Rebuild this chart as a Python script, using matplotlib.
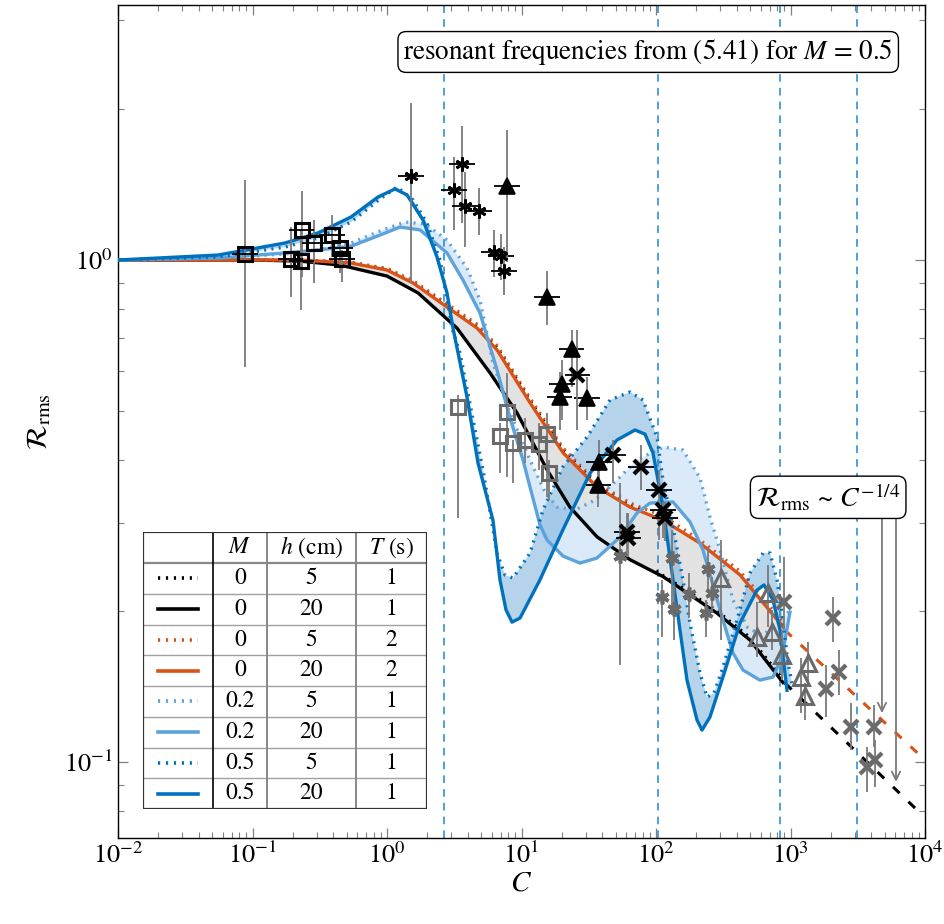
import numpy as np
import matplotlib
matplotlib.use('Agg')
import matplotlib.pyplot as plt

plt.rcParams['font.family'] = ['STIXGeneral', 'DejaVu Serif']
plt.rcParams['mathtext.fontset'] = 'stix'

# ---------------- model curves ----------------
# M=0, h=20, T=1 (black solid)
C_k20 = [0.01, 0.096, 0.225, 0.448, 1.0, 1.70, 3.31, 5.83, 9.26, 15.5, 22.9, 36.4, 64.1, 113, 159, 284, 500, 880]
R_k20 = [1.0, 1.0, 0.995, 0.977, 0.929, 0.860, 0.732, 0.596, 0.496, 0.382, 0.322, 0.281, 0.253, 0.234, 0.220, 0.198, 0.175, 0.144]
# M=0, h=5, T=1 (black dotted)
C_k5 = [0.01, 0.225, 0.540, 1.0, 1.56, 2.79, 4.67, 6.58, 11.6, 20.4, 36.4, 64.1, 80, np.nan, 100, 159, 284, 500, 880]
R_k5 = [1.0, 1.0, 0.988, 0.958, 0.905, 0.812, 0.738, 0.668, 0.524, 0.418, 0.357, 0.325, 0.318, np.nan, 0.240, 0.222, 0.200, 0.177, 0.146]
# M=0, h=20, T=2 (orange solid)
C_o20 = [0.01, 0.225, 0.540, 1.0, 1.56, 2.79, 4.67, 6.58, 11.6, 20.4, 36.4, 64.1, 113, 212, 421, 880]
R_o20 = [1.0, 1.0, 0.986, 0.955, 0.900, 0.806, 0.732, 0.662, 0.519, 0.413, 0.353, 0.322, 0.303, 0.273, 0.236, 0.186]
# M=0, h=5, T=2 (orange dotted)
C_o5 = [0.01, 0.225, 0.540, 1.0, 1.56, 2.79, 4.67, 6.58, 11.6, 20.4, 36.4, 64.1, 113, 212, 421, 880]
R_o5 = [1.0, 1.0, 0.990, 0.962, 0.910, 0.818, 0.745, 0.675, 0.530, 0.422, 0.360, 0.328, 0.309, 0.277, 0.240, 0.190]
# M=0.2, h=20 (light blue solid)
C_l20 = [0.01, 0.0554, 0.1745, 0.307, 0.540, 0.887, 1.249, 1.759, 2.793, 3.673, 4.914, 6.575, 8.21, 10.26,
         11.57, 13.73, 15.47, 20.35, 27.2, 36.4, 54.0, 72.2, 90.2, 133.8, 179, 223.5, 265.5, 314.6, 373.7,
         443.4, 593, 741, 865, 991]
R_l20 = [1.0, 1.009, 1.033, 1.047, 1.065, 1.121, 1.163, 1.148, 1.033, 0.912, 0.784, 0.604, 0.4845, 0.3996,
         0.353, 0.2966, 0.277, 0.2572, 0.2491, 0.2549, 0.2806, 0.3133, 0.328, 0.3296, 0.3008, 0.2645, 0.2252,
         0.1918, 0.1649, 0.1525, 0.1456, 0.1477, 0.1619, 0.1989]
# M=0.2, h=5 (light blue dotted)
C_l5 = [0.01, 0.0554, 0.1745, 0.307, 0.540, 0.887, 1.361, 1.917, 2.793, 3.934, 4.914, 6.14, 8.21, 11.57,
        14.95, 18.37, 25.0, 35.2, 51.3, 72.2, 112.7, 158.8, 212.5, 252, 299, 373.7, 483, 614, 794, 1026]
R_l5 = [1.0, 1.009, 1.028, 1.047, 1.081, 1.142, 1.190, 1.180, 1.096, 0.964, 0.832, 0.6236, 0.4957, 0.3996,
        0.345, 0.322, 0.3177, 0.3325, 0.3646, 0.3996, 0.4240, 0.4182, 0.3679, 0.3077, 0.2645, 0.2102, 0.185,
        0.179, 0.1875, 0.2027]
# M=0.5, h=20 (dark blue solid)
C_b20 = [0.01, 0.0554, 0.1745, 0.307, 0.540, 0.857, 1.147, 1.408, 1.852, 2.353, 2.793, 3.095, 3.934, 4.750,
         6.14, 6.92, 7.67, 8.50, 9.75, 13.7, 20.3, 32.3, 51.3, 69.8, 82.8, 95.0, 112.7, 133.8, 170, 201.8,
         219.8, 252, 314.6, 421, 563, 635, 741, 835, 895, 942]
R_b20 = [1.0, 1.023, 1.081, 1.132, 1.218, 1.335, 1.385, 1.348, 1.201, 1.014, 0.860, 0.732, 0.533, 0.394,
         0.303, 0.2305, 0.201, 0.190, 0.1936, 0.2305, 0.290, 0.376, 0.438, 0.4585, 0.450, 0.4125, 0.322,
         0.2305, 0.1456, 0.1213, 0.1158, 0.1230, 0.1477, 0.189, 0.220, 0.2253, 0.2103, 0.1833, 0.156, 0.139]
# M=0.5, h=5 (dark blue dotted)
C_b5 = [0.01, 0.0554, 0.1745, 0.307, 0.540, 0.887, 1.187, 1.561, 1.983, 2.477, 2.793, 3.04, 3.49, 5.173,
        6.575, 7.54, 8.64, 11.57, 14.45, 20.3, 30.7, 45.5, 64.1, 80.0, 101.7, 112.7, 133.8, 158.8, 179,
        212.5, 239.4, 270, 314.6, 400, 500, 624.7, 704, 794, 865, 958, 1026]
R_b5 = [1.0, 1.014, 1.061, 1.106, 1.190, 1.323, 1.398, 1.317, 1.185, 1.0, 0.844, 0.732, 0.6527, 0.3817,
        0.2608, 0.2358, 0.2326, 0.2608, 0.3177, 0.3870, 0.4440, 0.5262, 0.5458, 0.5262, 0.4440, 0.3646,
        0.2938, 0.2305, 0.189, 0.1504, 0.1347, 0.1372, 0.1546, 0.1918, 0.2379, 0.2608, 0.2608, 0.2305,
        0.198, 0.1575, 0.1437]

# power-law fits R ~ C^-1/4
C_fit_o = [910, 10000]
R_fit_o = [0.183, 0.101]
C_fit_k = [910, 8430]
R_fit_k = [0.1436, 0.081]

# resonant frequencies for M = 0.5
C_res = [2.65, 103.5, 836, 3120]

# axis ticks
x_ticks = [1e-2, 1e-1, 1e0, 1e1, 1e2, 1e3, 1e4]
y_ticks = [1e-1, 1e0]

# ---------------- measurements ----------------
# black open squares
sq_C = [0.088, 0.193, 0.230, 0.233, 0.287, 0.390, 0.448, 0.463]
sq_R = [1.028, 1.005, 0.995, 1.148, 1.081, 1.121, 1.057, 1.005]
sq_lo = [0.612, 0.844, 0.795, 0.925, 0.900, 1.014, 0.942, 0.904]
sq_hi = [1.44, 1.163, 1.148, 1.372, 1.201, 1.229, 1.163, 1.047]
# black asterisks
as_C = [1.508, 3.61, 3.15, 3.80, 4.83, 6.245, 7.04, 7.41]
as_R = [1.470, 1.553, 1.379, 1.281, 1.252, 1.037, 1.018, 0.951]
as_lo = [0.900, 1.185, 1.148, 1.061, 1.121, 0.925, 0.912, 0.852]
as_hi = [2.054, 1.849, 1.604, 1.497, 1.391, 1.148, 1.127, 1.061]
# black filled triangles
tb_C = [7.80, 15.47, 23.7, 20.0, 19.3, 30.7, 37.7, 37.1]
tb_R = [1.404, 0.844, 0.665, 0.566, 0.533, 0.531, 0.396, 0.356]
tb_lo = [0.991, 0.742, 0.558, 0.480, 0.4585, 0.480, 0.356, 0.322]
tb_hi = [1.815, 0.951, 0.725, 0.632, 0.598, 0.585, 0.438, 0.394]
# black crosses
xb_C = [25.9, 47.9, 77.3, 105.2, 112.7, 116.7, 60.9, 62.0]
xb_R = [0.590, 0.409, 0.387, 0.348, 0.318, 0.306, 0.287, 0.279]
xb_lo = [0.4585, 0.359, 0.348, 0.277, 0.280, 0.275, 0.256, 0.256]
xb_hi = [0.725, 0.438, 0.428, 0.382, 0.330, 0.330, 0.314, 0.314]
# horizontal error factor of black symbols
x_err_factor = 1.24
# grey open squares
gs_C = [3.37, 7.80, 6.92, 8.65, 10.6, 13.5, 15.47, 16.0]
gs_R = [0.5095, 0.498, 0.446, 0.432, 0.438, 0.430, 0.450, 0.376]
gs_lo = [0.306, 0.370, 0.376, 0.359, 0.394, 0.382, 0.337, 0.332]
gs_hi = [0.538, 0.596, 0.4735, 0.438, 0.4845, 0.4735, 0.4957, 0.400]
# grey asterisks
ga_C = [54.0, 131.5, 110.8, 136.1, 176, 243.6, 260.8, 235.4]
ga_R = [0.2572, 0.2549, 0.2132, 0.2018, 0.2163, 0.2424, 0.2171, 0.198]
ga_lo = [0.156, 0.196, 0.1774, 0.175, 0.1936, 0.220, 0.198, 0.1774]
ga_hi = [0.359, 0.290, 0.2305, 0.2253, 0.2379, 0.268, 0.2336, 0.2103]
# grey open triangles
gt_C = [304, 680, 563.7, 729, 865, 1197, 1349, 1282]
gt_R = [0.2326, 0.2171, 0.1774, 0.1815, 0.1634, 0.1477, 0.1575, 0.1353]
gt_lo = [0.175, 0.186, 0.1619, 0.167, 0.1456, 0.1252, 0.1436, 0.1213]
gt_hi = [0.277, 0.247, 0.2084, 0.201, 0.1833, 0.161, 0.1734, 0.1436]
# grey crosses
gx_C = [895, 2070, 1836, 2294, 2818, 4178, 3707, 4248]
gx_R = [0.2084, 0.1936, 0.1397, 0.1511, 0.1174, 0.1174, 0.0977, 0.101]
gx_lo = [0.1833, 0.1734, 0.123, 0.136, 0.1057, 0.1073, 0.0872, 0.0892]
gx_hi = [0.256, 0.2132, 0.156, 0.167, 0.131, 0.1302, 0.1073, 0.1106]

# arrows from the fit label to the fit lines
arrow_C = [4787, 6087]
arrow_R_start = [0.318, 0.318]
arrow_R_end = [0.1252, 0.0913]

# legend table
tab_M = ['0', '0', '0', '0', '0.2', '0.2', '0.5', '0.5']
tab_h = ['5', '20', '5', '20', '5', '20', '5', '20']
tab_T = ['1', '1', '2', '2', '1', '1', '1', '1']

BLACK = '#000000'
ORANGE = '#D95319'
LBLUE = '#5DA3DB'
DBLUE = '#0072BD'
GREY = '#6a6a6a'
EGREY = '#7a7a7a'

fig = plt.figure(figsize=(9.44, 9.24), dpi=100)
ax = fig.add_axes([118/944, 1-838/924, 807/944, 833/924])
ax.set_xscale('log')
ax.set_yscale('log')
ax.set_xlim(1e-2, 1e4)
ax.set_ylim(0.0706, 3.22)

# fills
ax.fill(list(C_o20) + C_k20[::-1], list(R_o20) + R_k20[::-1], color='#e2e2e2', lw=0, zorder=1)
ax.fill(list(C_l5) + C_l20[::-1], list(R_l5) + R_l20[::-1], color='#cfe4f6', alpha=0.75, lw=0, zorder=1.1)
ax.fill(list(C_b5) + C_b20[::-1], list(R_b5) + R_b20[::-1], color='#79afdc', alpha=0.55, lw=0, zorder=1.2)

# resonant lines
for c in C_res:
    ax.axvline(c, color='#1f86d0', lw=1.1, ls=(0, (5, 4)), zorder=1.5)

lw = 2.4
dot = (0, (0.6, 1.6))
ax.plot(C_k20, R_k20, color=BLACK, lw=lw, zorder=3)
ax.plot(C_k5, R_k5, color=BLACK, lw=lw, ls=dot, zorder=3)
ax.plot(C_o5, R_o5, color=ORANGE, lw=lw, ls=dot, zorder=3.1)
ax.plot(C_o20, R_o20, color=ORANGE, lw=lw, zorder=3.2)
ax.plot(C_l5, R_l5, color=LBLUE, lw=lw, ls=dot, zorder=3.3)
ax.plot(C_l20, R_l20, color=LBLUE, lw=lw, zorder=3.4)
ax.plot(C_b5, R_b5, color=DBLUE, lw=lw, ls=dot, zorder=3.5)
ax.plot(C_b20, R_b20, color=DBLUE, lw=lw, zorder=3.6)

ax.plot(C_fit_o, R_fit_o, color=ORANGE, lw=2.2, ls=(0, (3, 4)), zorder=3)
ax.plot(C_fit_k, R_fit_k, color=BLACK, lw=2.2, ls=(0, (3, 4)), zorder=3)


def points(C, R, lo, hi, marker, ms, color, face, mew, hbar):
    ax.vlines(C, lo, hi, color=EGREY, lw=1.3, zorder=4)
    if hbar:
        C = np.asarray(C)
        ax.hlines(R, C / x_err_factor, C * x_err_factor, color=BLACK, lw=1.3, zorder=4)
    ax.plot(C, R, ls='none', marker=marker, ms=ms, mec=color, mfc=face, mew=mew, zorder=5)


points(sq_C, sq_R, sq_lo, sq_hi, 's', 10, BLACK, 'none', 2.2, True)
points(as_C, as_R, as_lo, as_hi, (6, 2, 0), 10, BLACK, BLACK, 2.0, True)
points(tb_C, tb_R, tb_lo, tb_hi, '^', 11, BLACK, BLACK, 1.2, True)
points(xb_C, xb_R, xb_lo, xb_hi, 'x', 10, BLACK, BLACK, 3.0, True)
points(gs_C, gs_R, gs_lo, gs_hi, 's', 10, GREY, 'none', 2.2, False)
points(ga_C, ga_R, ga_lo, ga_hi, (6, 2, 0), 10, GREY, GREY, 2.6, False)
points(gt_C, gt_R, gt_lo, gt_hi, '^', 11, GREY, 'none', 2.2, False)
points(gx_C, gx_R, gx_lo, gx_hi, 'x', 10, GREY, GREY, 3.0, False)

for c, r0, r1 in zip(arrow_C, arrow_R_start, arrow_R_end):
    ax.annotate('', xy=(c, r1), xytext=(c, r0),
                arrowprops=dict(arrowstyle='->,head_length=0.6,head_width=0.3', color=EGREY, lw=1.3,
                                shrinkA=0, shrinkB=0), zorder=6)

bbox = dict(boxstyle='round,pad=0.2,rounding_size=0.3', fc='white', ec='black', lw=1.0)
ax.text(0.657, 0.9436, r'resonant frequencies from (5.41) for $M$ = 0.5', transform=ax.transAxes,
        ha='center', va='center', fontsize=19.5, bbox=bbox, zorder=7)
ax.text(0.880, 0.409, r'$\mathcal{R}_{\mathrm{rms}}$ ~ $C^{-1/4}$', transform=ax.transAxes,
        ha='center', va='center', fontsize=20, bbox=bbox, zorder=7)

ax.set_xlabel(r'$C$', fontsize=21, labelpad=2)
ax.set_ylabel(r'$\mathcal{R}_{\mathrm{rms}}$', fontsize=21, labelpad=8)
ax.set_xticks(x_ticks)
ax.set_yticks(y_ticks)
ax.set_xlim(1e-2, 1e4)
ax.set_ylim(0.0706, 3.22)
ax.tick_params(which='both', direction='in', top=True, right=True, color='#808080', labelsize=19)
ax.tick_params(which='major', length=7, width=0.9)
ax.tick_params(which='minor', length=4, width=0.8)
for s in ax.spines.values():
    s.set_linewidth(1.0)
ax.xaxis.set_minor_formatter(matplotlib.ticker.NullFormatter())
ax.yaxis.set_minor_formatter(matplotlib.ticker.NullFormatter())

# ---------------- legend table ----------------
tx = fig.add_axes([143/944, 1-809/924, 284/944, 277/924])
tx.set_xlim(0, 1)
tx.set_ylim(0, 1)
tx.axis('off')
tx.add_patch(plt.Rectangle((0, 0), 1, 1, fc='white', ec='none', zorder=0))
cols = [0, 0.2465, 0.4366, 0.75, 1.0]
head_h = 31/277
row_h = (1 - head_h) / 8
for i in range(1, 8):
    y = row_h * i
    tx.plot([0, 1], [y, y], color='#a0a0a0', lw=1.0, zorder=1)
tx.plot([0, 1], [1 - head_h, 1 - head_h], color='#888888', lw=1.6, zorder=1)
tx.plot([cols[2], cols[2]], [0, 1], color='#888888', lw=1.4, zorder=1)
tx.plot([cols[3], cols[3]], [0, 1], color='#888888', lw=1.4, zorder=1)
tx.plot([cols[1], cols[1]], [0, 1], color='black', lw=1.2, zorder=2)
tx.add_patch(plt.Rectangle((0, 0), 1, 1, fc='none', ec='#333333', lw=1.6, zorder=3))

fs = 17
yh = 1 - head_h / 2
tx.text((cols[1] + cols[2]) / 2, yh, r'$M$', ha='center', va='center', fontsize=fs)
tx.text((cols[2] + cols[3]) / 2, yh, r'$h$ (cm)', ha='center', va='center', fontsize=fs)
tx.text((cols[3] + cols[4]) / 2, yh, r'$T$ (s)', ha='center', va='center', fontsize=fs)
styles = [(BLACK, dot), (BLACK, '-'), (ORANGE, dot), (ORANGE, '-'),
          (LBLUE, dot), (LBLUE, '-'), (DBLUE, dot), (DBLUE, '-')]
for i in range(8):
    y = 1 - head_h - row_h * (i + 0.5)
    col, ls = styles[i]
    tx.plot([0.053, 0.194], [y, y], color=col, ls=ls, lw=2.6, zorder=4)
    tx.text((cols[1] + cols[2]) / 2, y, tab_M[i], ha='center', va='center', fontsize=fs)
    tx.text((cols[2] + cols[3]) / 2, y, tab_h[i], ha='center', va='center', fontsize=fs)
    tx.text((cols[3] + cols[4]) / 2, y, tab_T[i], ha='center', va='center', fontsize=fs)

fig.savefig('out.png', dpi=100)
